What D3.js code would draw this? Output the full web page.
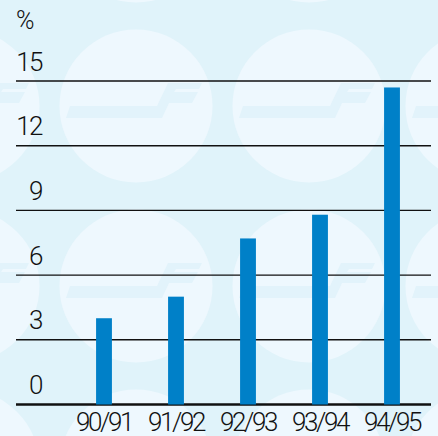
<!DOCTYPE html>
<html>
<head>
<meta charset="utf-8">
<script src="https://cdn.jsdelivr.net/npm/d3@7"></script>
<style>
  html, body { margin: 0; padding: 0; background: #e0f3fa; }
  svg text { font-family: Roboto, "Liberation Sans", Arial, sans-serif; font-weight: 300; fill: #111; }
</style>
</head>
<body>
<div id="chart"></div>
<script>
// data
let seasons = ["90/91", "91/92", "92/93", "93/94", "94/95"]
let growth = [4.0, 5.0, 7.7, 8.8, 14.7]
let yTicks = [0, 3, 6, 9, 12, 15]

let svgWidth = 438
let svgHeight = 436

let svg = d3.select("#chart")
    .append("svg")
        .attr("width", svgWidth)
        .attr("height", svgHeight)

//background
svg.append("rect")
    .attr("width", svgWidth)
    .attr("height", svgHeight)
    .attr("fill", "#e0f3fa")

//decorative circles with the faint logo
let deco = svg.append("g")
let cols = [-37, 136, 309, 482]
let rows = [-74, 106, 286, 466]
let logo = [[-70,12],[26,12],[33,-3],[56,-3],[62,-14],[38,-14],[40,-17],[63,-17],[66,-23],[32,-23],[21,0],[-66,0]]
rows.forEach(function(cy){
    cols.forEach(function(cx){
        deco.append("circle")
            .attr("cx", cx).attr("cy", cy).attr("r", 76.5)
            .attr("fill", "#eef8fe")
        deco.append("polygon")
            .attr("points", logo.map(p => (cx + p[0]) + "," + (cy + p[1])).join(" "))
            .attr("fill", "#e2f3fb")
    })
})

//scales
let y = d3.scaleLinear()
    .domain([0, 15])
    .range([404.5, 81])

let x = d3.scaleBand()
    .domain(seasons)
    .range([68, 428])
    .paddingInner(0.78)
    .paddingOuter(0.39)

//gridlines
svg.selectAll("grid")
    .data(yTicks)
    .join("line")
    .attr("x1", 16)
    .attr("x2", 431)
    .attr("y1", d => y(d))
    .attr("y2", d => y(d))
    .attr("stroke", "#111")
    .attr("stroke-width", d => d === 0 ? 2.5 : 1.4)

//y labels
svg.selectAll("ylabels")
    .data(yTicks)
    .join("text")
    .text(d => d)
    .attr("x", 42)
    .attr("y", d => y(d) - 10.5)
    .attr("text-anchor", "end")
    .style("font-size", "26px")
    .style("letter-spacing", "-1.5px")

svg.append("text")
    .text("%")
    .attr("x", 16)
    .attr("y", 29)
    .style("font-size", "25px")

//bars
svg.selectAll("bars")
    .data(growth)
    .join("rect")
    .attr("x", (d, i) => x(seasons[i]))
    .attr("width", x.bandwidth())
    .attr("y", d => y(d))
    .attr("height", d => y(0) - y(d))
    .attr("fill", "#0080c8")

//x labels
svg.selectAll("xlabels")
    .data(seasons)
    .join("text")
    .text(d => d)
    .attr("x", d => x(d) + x.bandwidth() / 2)
    .attr("y", 431)
    .attr("text-anchor", "middle")
    .style("font-size", "26px")
    .style("letter-spacing", "-2.4px")
</script>
</body>
</html>
